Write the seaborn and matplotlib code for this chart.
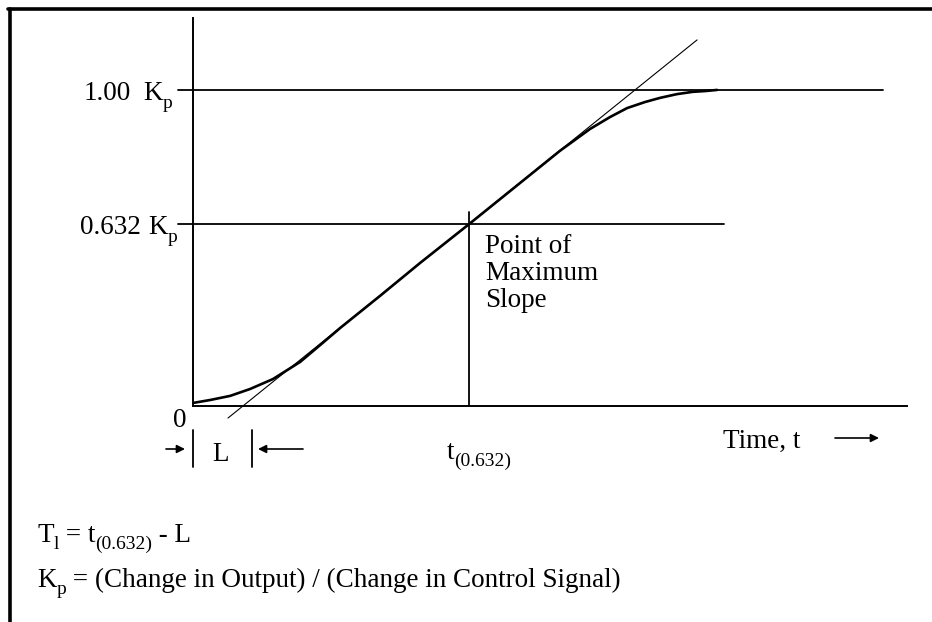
import numpy as np
import pandas as pd
import matplotlib
matplotlib.use("Agg")
import matplotlib.pyplot as plt
from matplotlib.lines import Line2D
from matplotlib.patches import FancyArrowPatch
from matplotlib.transforms import blended_transform_factory
import seaborn as sns

# Process reaction curve (time in arbitrary units, output as fraction of Kp)
time_pts = [0.00, 0.24, 0.52, 0.80, 1.12, 1.50, 1.78, 2.06, 2.62, 3.18, 3.87,
            4.58, 5.14, 5.56, 5.84, 6.08, 6.33, 6.54, 6.78, 7.00, 7.17, 7.34]
response = [0.021, 0.037, 0.057, 0.088, 0.129, 0.194, 0.254, 0.312, 0.416, 0.517, 0.632,
            0.748, 0.837, 0.896, 0.928, 0.952, 0.968, 0.979, 0.989, 0.995, 0.997, 1.000]

# Reference levels and characteristic times
level_full = 1.00
level_632 = 0.632
t_632 = 3.87
lag_L = 0.83
# Tangent through the point of maximum slope
tangent_t = [0.49, 7.06]
tangent_y = [-0.066, 1.130]

level_labels = ["1.00", "0.632"]

sns.set_style("white")
plt.rcParams["font.family"] = ["Liberation Serif", "DejaVu Serif"]

W, H = 932, 622
fig = plt.figure(figsize=(W / 100, H / 100), dpi=100)
fig.patch.set_facecolor("white")

FS = 19.5      # body text size
FS_SUB = 14    # subscript size
DROP = 7       # subscript drop, pixels


def fx(px):
    return px / W


def fy(py):
    return 1 - py / H


def rich(x_px, y_px, pieces, drop=DROP):
    """Write text pieces one after another on a baseline; (text, True) is a subscript."""
    renderer = fig.canvas.get_renderer()
    x = x_px
    for s, sub in pieces:
        t = fig.text(fx(x), fy(y_px + (drop if sub else 0)), s,
                     fontsize=FS_SUB if sub else FS, color="black",
                     va="baseline", ha="left")
        x += t.get_window_extent(renderer).width
    return x


ax = fig.add_axes([fx(193), fy(406), fx(907) - fx(193), fy(18) - fy(406)])

# Output axis uses a mild power scale so the sketch keeps its proportions
p = 1.202
ax.set_yscale("function",
              functions=(lambda v: np.sign(v) * np.abs(v) ** p,
                         lambda v: np.sign(v) * np.abs(v) ** (1 / p)))
ax.set_xlim(0, 10)
ax.set_ylim(0, 1.186)

df = pd.DataFrame({"t": time_pts, "y": response})
sns.lineplot(data=df, x="t", y="y", ax=ax, color="black", lw=1.9,
             sort=False, estimator=None)

ax.plot(tangent_t, tangent_y, color="black", lw=0.8, clip_on=False)
ax.plot([-0.21, 9.66], [level_full, level_full], color="black", lw=1.3, clip_on=False)
ax.plot([-0.21, 7.44], [level_632, level_632], color="black", lw=1.3, clip_on=False)
ax.plot([t_632, t_632], [0, 0.666], color="black", lw=1.3)

for s in ["top", "right"]:
    ax.spines[s].set_visible(False)
for s in ["left", "bottom"]:
    ax.spines[s].set_color("black")
    ax.spines[s].set_linewidth(1.4)
ax.set_xticks([])
ax.set_yticks([])
ax.set_xlabel("")
ax.set_ylabel("")

# Level labels on the left, set on the baseline just under each level line
for lab, lev, xn, xk in zip(level_labels, [level_full, level_632], [84, 80], [143, 148]):
    y_line = H - ax.transData.transform((0, lev))[1]
    rich(xn, y_line + 10, [(lab, False)])
    rich(xk, y_line + 10, [("K", False), ("p", True)], drop=8)

rich(173, 427, [("0", False)])

# Annotation for the point of maximum slope
for i, line in enumerate(["Point of", "Maximum", "Slope"]):
    rich(485, 253 + 27 * i, [(line, False)])

# Dead time L marker
tr_bx = blended_transform_factory(ax.transData, fig.transFigure)
for xv in [0, lag_L]:
    fig.add_artist(Line2D([xv, xv], [fy(430), fy(467)], transform=tr_bx,
                          color="black", lw=1.3))
rich(212, 461, [("L", False)])
arrow = dict(arrowstyle="-|>", color="black", lw=1.2, mutation_scale=12,
             shrinkA=0, shrinkB=0)
fig.add_artist(FancyArrowPatch((fx(166), fy(449)), (fx(185), fy(449)),
                               transform=fig.transFigure, **arrow))
fig.add_artist(FancyArrowPatch((fx(303), fy(449)), (fx(258), fy(449)),
                               transform=fig.transFigure, **arrow))

rich(447, 459, [("t", False), ("(0.632)", True)])

rich(723, 448, [("Time, t", False)])
fig.add_artist(FancyArrowPatch((fx(835), fy(438)), (fx(879), fy(438)),
                               transform=fig.transFigure, **arrow))

# Formulas
rich(37, 542, [("T", False), ("l", True), (" = t", False), ("(0.632)", True), (" - L", False)])
rich(37, 587, [("K", False), ("p", True),
               (" = (Change in Output) / (Change in Control Signal)", False)])

# Frame on the left and top edges
fig.add_artist(Line2D([fx(9.5), fx(9.5)], [0, fy(8.5)], color="black", lw=2.6))
fig.add_artist(Line2D([fx(8), 1], [fy(8.5), fy(8.5)], color="black", lw=2.6))

fig.savefig("out.png", dpi=100, facecolor="white")
